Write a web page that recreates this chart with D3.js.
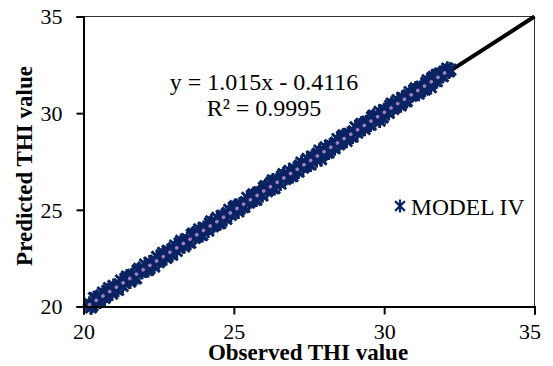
<!DOCTYPE html>
<html>
<head>
<meta charset="utf-8">
<script src="https://cdn.jsdelivr.net/npm/d3@7/dist/d3.min.js"></script>
<style>
  html, body { margin: 0; padding: 0; background: #fff; }
  svg { display: block; font-family: "Liberation Serif", "Times New Roman", serif; }
</style>
</head>
<body>
<svg id="chart" width="553" height="366"></svg>
<script>
// Observed vs predicted THI, MODEL IV
const observed = [
  20.2, 20.3, 20.4, 20.5, 20.6, 20.7, 20.8, 20.9, 21.0, 21.1,
  21.2, 21.3, 21.4, 21.5, 21.6, 21.7, 21.8, 21.9, 22.0, 22.1,
  22.2, 22.3, 22.4, 22.5, 22.6, 22.7, 22.8, 22.9, 23.0, 23.1,
  23.2, 23.3, 23.4, 23.5, 23.6, 23.7, 23.8, 23.9, 24.0, 24.1,
  24.2, 24.3, 24.4, 24.5, 24.6, 24.7, 24.8, 24.9, 25.0, 25.1,
  25.2, 25.3, 25.4, 25.5, 25.6, 25.7, 25.8, 25.9, 26.0, 26.1,
  26.2, 26.3, 26.4, 26.5, 26.6, 26.7, 26.8, 26.9, 27.0, 27.1,
  27.2, 27.3, 27.4, 27.5, 27.6, 27.7, 27.8, 27.9, 28.0, 28.1,
  28.2, 28.3, 28.4, 28.5, 28.6, 28.7, 28.8, 28.9, 29.0, 29.1,
  29.2, 29.3, 29.4, 29.5, 29.6, 29.7, 29.8, 29.9, 30.0, 30.1,
  30.2, 30.3, 30.4, 30.5, 30.6, 30.7, 30.8, 30.9, 31.0, 31.1,
  31.2, 31.3, 31.4, 31.5, 31.6, 31.7, 31.8, 31.9, 32.0, 32.2,
  20.25, 20.35, 20.45, 20.55, 20.65, 20.75, 20.85, 20.95, 21.05, 21.15,
  21.25, 21.35, 21.45, 21.55, 21.65, 21.75, 21.85, 21.95, 22.05, 22.15,
  22.25, 22.35, 22.45, 22.55, 22.65, 22.75, 22.85, 22.95, 23.05, 23.15,
  23.25, 23.35, 23.45, 23.55, 23.65, 23.75, 23.85, 23.95, 24.05, 24.15,
  24.25, 24.35, 24.45, 24.55, 24.65, 24.75, 24.85, 24.95, 25.05, 25.15,
  25.25, 25.35, 25.45, 25.55, 25.65, 25.75, 25.85, 25.95, 26.05, 26.15,
  26.25, 26.35, 26.45, 26.55, 26.65, 26.75, 26.85, 26.95, 27.05, 27.15,
  27.25, 27.35, 27.45, 27.55, 27.65, 27.75, 27.85, 27.95, 28.05, 28.15,
  28.25, 28.35, 28.45, 28.55, 28.65, 28.75, 28.85, 28.95, 29.05, 29.15,
  29.25, 29.35, 29.45, 29.55, 29.65, 29.75, 29.85, 29.95, 30.05, 30.15,
  30.25, 30.35, 30.45, 30.55, 30.65, 30.75, 30.85, 30.95, 31.05, 31.15,
  31.25, 31.35, 31.45, 31.55, 31.65, 31.75, 31.85, 31.95, 32.05, 32.15,
  20.25, 26.3, 27.9, 29.85, 31.55, 31.75, 32.1
];
const predicted = [
  20.14, 20.07, 20.43, 20.34, 20.58, 20.45, 20.81, 20.78, 21.06, 20.90,
  21.14, 21.07, 21.43, 21.36, 21.60, 21.45, 21.85, 21.79, 21.98, 21.90,
  22.27, 22.15, 22.37, 22.30, 22.63, 22.59, 22.87, 22.72, 23.00, 22.88,
  23.26, 23.18, 23.36, 23.32, 23.70, 23.55, 23.84, 23.71, 24.06, 24.02,
  24.29, 24.15, 24.40, 24.31, 24.68, 24.59, 24.84, 24.74, 25.11, 25.01,
  25.27, 25.14, 25.40, 25.38, 25.70, 25.53, 25.85, 25.82, 26.14, 25.97,
  26.22, 26.13, 26.49, 26.45, 26.72, 26.59, 26.85, 26.76, 27.13, 27.02,
  27.29, 27.18, 27.42, 27.36, 27.75, 27.65, 27.91, 27.80, 28.06, 27.96,
  28.33, 28.23, 28.48, 28.39, 28.76, 28.69, 28.92, 28.80, 29.06, 28.99,
  29.36, 29.27, 29.52, 29.42, 29.79, 29.65, 29.89, 29.79, 30.15, 30.10,
  30.37, 30.22, 30.50, 30.46, 30.79, 30.62, 30.93, 30.90, 31.17, 31.05,
  31.30, 31.22, 31.56, 31.50, 31.79, 31.67, 31.91, 31.94, 32.13, 32.25,
  19.96, 20.43, 20.35, 20.26, 20.72, 20.57, 20.95, 20.67, 21.00, 20.86,
  21.34, 21.23, 21.55, 21.29, 21.64, 21.47, 21.94, 21.80, 22.17, 21.89,
  22.19, 22.07, 22.56, 22.39, 22.77, 22.51, 22.84, 22.68, 23.15, 23.06,
  23.39, 23.11, 23.48, 23.30, 23.77, 23.63, 23.99, 23.70, 24.04, 23.93,
  24.40, 24.22, 24.58, 24.32, 24.68, 24.53, 25.00, 24.87, 25.19, 24.92,
  25.27, 25.15, 25.62, 25.45, 25.80, 25.53, 25.91, 25.75, 26.22, 26.08,
  26.40, 26.13, 26.50, 26.36, 26.84, 26.66, 27.02, 26.75, 27.07, 26.98,
  27.44, 27.29, 27.63, 27.35, 27.72, 27.57, 28.06, 27.92, 28.23, 27.97,
  28.31, 28.19, 28.66, 28.49, 28.85, 28.57, 28.93, 28.79, 29.27, 29.13,
  29.45, 29.19, 29.56, 29.41, 29.87, 29.71, 30.07, 29.79, 30.13, 30.01,
  30.49, 30.33, 30.67, 30.41, 30.77, 30.63, 31.09, 30.95, 31.28, 31.01,
  31.37, 31.23, 31.70, 31.53, 31.88, 31.66, 32.04, 31.92, 32.16, 32.16,
  19.98, 26.52, 27.62, 29.62, 31.35, 31.98, 32.30
];

const xTicks = [20, 25, 30, 35];
const yTicks = [20, 25, 30, 35];
const slope = 1.015, intercept = -0.4116;
const equationText = "y = 1.015x - 0.4116";
const r2Text = "R² = 0.9995";
const seriesName = "MODEL IV";
const xTitle = "Observed THI value";
const yTitle = "Predicted THI value";

const svg = d3.select("#chart");
const plotLeft = 83.5, plotRight = 534.5, plotTop = 16.5, plotBottom = 306.5;

const x = d3.scaleLinear().domain([20, 35]).range([plotLeft, plotRight]);
const y = d3.scaleLinear().domain([20, 35]).range([plotBottom, plotTop]);

const navy = "#0A2362";
const trendColor = "#A07CC0";

// plot frame (top and right edges)
svg.append("path")
  .attr("d", `M${plotLeft},${plotTop}H${plotRight}V${plotBottom}`)
  .attr("fill", "none").attr("stroke", "#333").attr("stroke-width", 1);

// 1:1 reference line
svg.append("line")
  .attr("x1", x(20)).attr("y1", y(20)).attr("x2", x(35)).attr("y2", y(35))
  .attr("stroke", "#000").attr("stroke-width", 4);

// asterisk marker path
function star(s) {
  const h = s / 2, d = h * 0.75;
  return `M${-d},${-d}L${d},${d}M${-d},${d}L${d},${-d}M0,${-h}L0,${h}`;
}

const pts = observed.map((o, i) => [o, predicted[i]]);
svg.append("g").selectAll("path").data(pts).join("path")
  .attr("transform", d => `translate(${x(d[0])},${y(d[1])})`)
  .attr("d", star(15))
  .attr("fill", "none").attr("stroke", navy).attr("stroke-width", 2.9);

// linear trendline
const xMin = d3.min(observed), xMax = d3.max(observed);
svg.append("line")
  .attr("x1", x(xMin)).attr("y1", y(slope * xMin + intercept))
  .attr("x2", x(xMax)).attr("y2", y(slope * xMax + intercept))
  .attr("stroke", trendColor).attr("stroke-width", 3.6)
  .attr("stroke-linecap", "round").attr("stroke-dasharray", "0.1 7.9");

// axes
const xAxis = svg.append("g").attr("transform", `translate(0,${plotBottom})`)
  .call(d3.axisBottom(x).tickValues(xTicks).tickSize(8).tickPadding(9).tickFormat(d3.format("d")));
const yAxis = svg.append("g").attr("transform", `translate(${plotLeft},0)`)
  .call(d3.axisLeft(y).tickValues(yTicks).tickSize(7).tickPadding(14).tickFormat(d3.format("d")));
[xAxis, yAxis].forEach(a => {
  a.select(".domain").attr("stroke", "#000").attr("stroke-width", 2);
  a.selectAll(".tick line").attr("stroke", "#000").attr("stroke-width", 2);
  a.selectAll("text").attr("fill", "#000")
    .style("font-family", '"Liberation Serif", serif').style("font-size", "22px");
});
yAxis.selectAll("text").attr("dy", "0.34em");
xAxis.selectAll("text").attr("dy", "0.71em");
xAxis.selectAll(".tick text").filter(d => d === 35).attr("dx", -5);

// axis titles
svg.append("text").attr("x", 308).attr("y", 360)
  .attr("text-anchor", "middle").attr("font-weight", "bold").attr("font-size", "23px")
  .text(xTitle);
svg.append("text").attr("transform", "translate(32,166) rotate(-90)")
  .attr("text-anchor", "middle").attr("font-weight", "bold").attr("font-size", "23px")
  .text(yTitle);

// regression annotation
svg.append("text").attr("x", 264).attr("y", 90)
  .attr("text-anchor", "middle").attr("font-size", "24px").text(equationText);
svg.append("text").attr("x", 264).attr("y", 116)
  .attr("text-anchor", "middle").attr("font-size", "24px").text(r2Text);

// legend
svg.append("path").attr("transform", "translate(400,206)")
  .attr("d", star(13)).attr("fill", "none").attr("stroke", navy).attr("stroke-width", 2.2);
svg.append("text").attr("x", 411).attr("y", 215)
  .attr("font-size", "23.5px").text(seriesName);
</script>
</body>
</html>
